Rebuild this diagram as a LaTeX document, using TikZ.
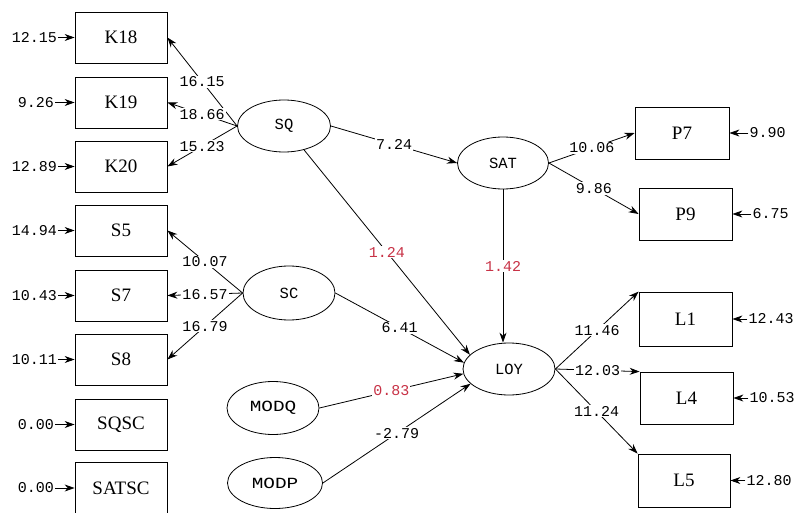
\documentclass[tikz,border=0pt]{standalone}
\usepackage{fontspec}
\usetikzlibrary{shapes.geometric,arrows.meta}
\newfontfamily\monof{Liberation Mono}
\newfontfamily\monowide[FakeStretch=1.25]{Liberation Mono}
\newfontfamily\serf{Liberation Serif}
\definecolor{redlab}{RGB}{200,50,70}
\begin{document}
\begin{tikzpicture}[x=1pt,y=-1pt,
 obs/.style={draw, line width=0.8pt, minimum width=92pt, minimum height=51pt, inner sep=0pt, font=\serf\fontsize{19}{20}\selectfont},
 lat/.style={draw, ellipse, line width=0.8pt, minimum width=92pt, minimum height=52pt, inner sep=0pt, font=\monof\fontsize{15.5}{16}\selectfont},
 num/.style={font=\monof\fontsize{15}{16}\selectfont, inner sep=1pt, fill=white},
 rednum/.style={num, text=redlab},
 arr/.style={-{Stealth[length=10pt,width=7pt]}, line width=0.8pt},
]
\useasboundingbox (0,0) rectangle (799,513);
% left observed boxes
\node[obs] (K18) at (121,37.5) {K18};
\node[obs] (K19) at (121,102.5) {K19};
\node[obs] (K20) at (121,166.5) {K20};
\node[obs] (S5) at (121,230.5) {S5};
\node[obs] (S7) at (121,295.5) {S7};
\node[obs] (S8) at (121,359.5) {S8};
\node[obs] (SQSC) at (121,424.5) {SQSC};
\node[obs] (SATSC) at (121,488) {SATSC};
% right observed boxes
\node[obs, minimum width=94pt, minimum height=52pt] (P7) at (682,133) {P7};
\node[obs, minimum width=93pt, minimum height=52pt] (P9) at (685.5,214) {P9};
\node[obs, minimum width=93pt, minimum height=54pt] (L1) at (685.5,319) {L1};
\node[obs, minimum width=93pt, minimum height=52pt] (L4) at (686.5,398) {L4};
\node[obs, minimum width=92pt, minimum height=53pt] (L5) at (684,480.5) {L5};
% latent ellipses
\node[lat, minimum width=93pt] (SQ) at (284,126) {SQ};
\node[lat, minimum width=91pt] (SAT) at (503,163) {SAT};
\node[lat, minimum height=54pt] (SC) at (289,293) {SC};
\node[lat] (LOY) at (509,369) {LOY};
\node[lat, minimum height=53pt, font=\monowide\fontsize{15.5}{16}\selectfont] (MODQ) at (273,408) {MODQ};
\node[lat, minimum width=95pt, minimum height=51pt, font=\monowide\fontsize{15.5}{16}\selectfont] (MODP) at (275,483) {MODP};
% left error terms
\node[num, anchor=east] (eK18) at (58,37.5) {12.15};
\node[num, anchor=east] (eK19) at (55,102.5) {9.26};
\node[num, anchor=east] (eK20) at (58,166.5) {12.89};
\node[num, anchor=east] (eS5) at (58,230.5) {14.94};
\node[num, anchor=east] (eS7) at (58,295.5) {10.43};
\node[num, anchor=east] (eS8) at (58,359.5) {10.11};
\node[num, anchor=east] (eSQSC) at (55,424.5) {0.00};
\node[num, anchor=east] (eSATSC) at (55,488) {0.00};
\foreach \b in {K18,K19,K20,S5,S7,S8,SQSC,SATSC}{\draw[arr] (e\b.east) -- (\b.west);}
% right error terms
\node[num, anchor=west] (eP7) at ([xshift=19pt]P7.east) {9.90};
\node[num, anchor=west] (eP9) at ([xshift=19pt]P9.east) {6.75};
\node[num, anchor=west] (eL1) at ([xshift=15pt]L1.east) {12.43};
\node[num, anchor=west] (eL4) at ([xshift=15pt]L4.east) {10.53};
\node[num, anchor=west] (eL5) at ([xshift=15pt]L5.east) {12.80};
\foreach \b in {P7,P9,L1,L4,L5}{\draw[arr] (e\b.west) -- (\b.east);}
% loadings
\draw[arr] (SQ.west) -- node[num]{16.15} (K18.east);
\draw[arr] (SQ.west) -- node[num]{18.66} (K19.east);
\draw[arr] (SQ.west) -- node[num]{15.23} (K20.east);
\draw[arr] (SC.west) -- node[num]{10.07} (S5.east);
\draw[arr] (SC.west) -- node[num]{16.57} (S7.east);
\draw[arr] (SC.west) -- node[num]{16.79} (S8.east);
\draw[arr] (SAT.east) -- node[num]{10.06} (P7.west);
\draw[arr] (SAT.east) -- node[num]{9.86} (P9.west);
\draw[arr] (LOY.east) -- node[num]{11.46} (L1.north west);
\draw[arr] (LOY.east) -- node[num]{12.03} (L4.north west);
\draw[arr] (LOY.east) -- node[num]{11.24} (L5.north west);
% structural paths
\draw[arr] (SQ.east) -- node[num]{7.24} (SAT.west);
\draw[arr] (SQ.-50) -- node[rednum]{1.24} (LOY.160);
\draw[arr] (SAT.south) -- node[rednum]{1.42} (SAT.south |- LOY.north);
\draw[arr] (SC.east) -- node[num]{6.41} (LOY.172);
\draw[arr] (MODQ.east) -- node[rednum]{0.83} (LOY.186);
\draw[arr] (MODP.east) -- node[num]{-2.79} (LOY.201);
\end{tikzpicture}
\end{document}
